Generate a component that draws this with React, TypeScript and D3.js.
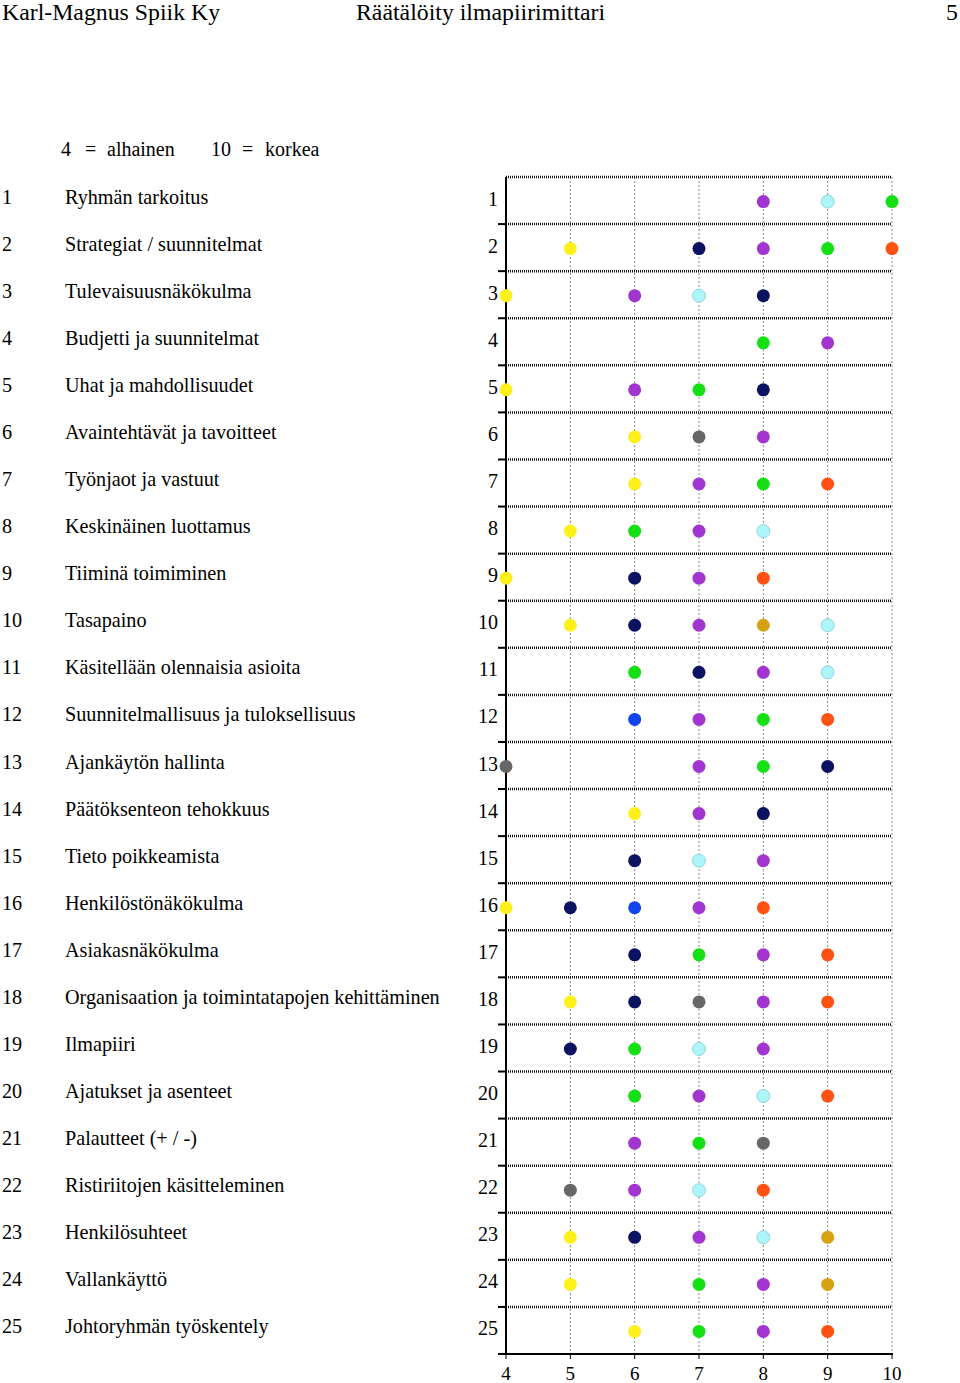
import React from "react";
import * as d3 from "d3";

const rowLabels = [
  "Ryhmän tarkoitus",
  "Strategiat / suunnitelmat",
  "Tulevaisuusnäkökulma",
  "Budjetti ja suunnitelmat",
  "Uhat ja mahdollisuudet",
  "Avaintehtävät ja tavoitteet",
  "Työnjaot ja vastuut",
  "Keskinäinen luottamus",
  "Tiiminä toimiminen",
  "Tasapaino",
  "Käsitellään olennaisia asioita",
  "Suunnitelmallisuus ja tuloksellisuus",
  "Ajankäytön hallinta",
  "Päätöksenteon tehokkuus",
  "Tieto poikkeamista",
  "Henkilöstönäkökulma",
  "Asiakasnäkökulma",
  "Organisaation ja toimintatapojen kehittäminen",
  "Ilmapiiri",
  "Ajatukset ja asenteet",
  "Palautteet (+ / -)",
  "Ristiriitojen käsitteleminen",
  "Henkilösuhteet",
  "Vallankäyttö",
  "Johtoryhmän työskentely",
];

const xTicks = [4, 5, 6, 7, 8, 9, 10];

type V = number | null;
const _ = null;
// one value per row (1..25), null = no mark
const purple: V[] = [8, 8, 6, 9, 6, 8, 7, 7, 7, 7, 8, 7, 7, 7, 8, 7, 8, 8, 8, 7, 6, 6, 7, 8, 8];
const cyan: V[] = [9, _, 7, _, _, _, _, 8, _, 9, 9, _, _, _, 7, _, _, _, 7, 8, _, 7, 8, _, _];
const green: V[] = [10, 9, _, 8, 7, _, 8, 6, _, _, 6, 8, 8, _, _, _, 7, _, 6, 6, 7, _, _, 7, 7];
const yellow: V[] = [_, 5, 4, _, 4, 6, 6, 5, 4, 5, _, _, _, 6, _, 4, _, 5, _, _, _, _, 5, 5, 6];
const navy: V[] = [_, 7, 8, _, 8, _, _, _, 6, 6, 7, _, 9, 8, 6, 5, 6, 6, 5, _, _, _, 6, _, _];
const orange: V[] = [_, 10, _, _, _, _, 9, _, 8, _, _, 9, _, _, _, 8, 9, 9, _, 9, _, 8, _, _, 9];
const gray: V[] = [_, _, _, _, _, 7, _, _, _, _, _, _, 4, _, _, _, _, 7, _, _, 8, 5, _, _, _];
const blue: V[] = [_, _, _, _, _, _, _, _, _, _, _, 6, _, _, _, 6, _, _, _, _, _, _, _, _, _];
const gold: V[] = [_, _, _, _, _, _, _, _, _, 8, _, _, _, _, _, _, _, _, _, _, _, _, 9, 9, _];

const series = [
  { values: yellow, fill: "#fff019", stroke: "none" },
  { values: navy, fill: "#0b1262", stroke: "none" },
  { values: blue, fill: "#1244ee", stroke: "none" },
  { values: gray, fill: "#676767", stroke: "none" },
  { values: purple, fill: "#a234d0", stroke: "none" },
  { values: cyan, fill: "#adf5f8", stroke: "#8fd8e0" },
  { values: green, fill: "#14e014", stroke: "none" },
  { values: orange, fill: "#ff5212", stroke: "none" },
  { values: gold, fill: "#d6a214", stroke: "none" },
];

const FONT = "'Liberation Serif', 'Times New Roman', serif";

export default function App() {
  const W = 960;
  const H = 1383;
  const x = d3.scaleLinear().domain([4, 10]).range([506, 892]);
  const y = d3.scaleLinear().domain([0, rowLabels.length]).range([177, 1354]);
  const rowMid = (i: number) => y(i + 0.5);

  const dots: { cx: number; cy: number; fill: string; stroke: string; key: string }[] = [];
  series.forEach((s, si) => {
    s.values.forEach((v, i) => {
      if (v != null) dots.push({ cx: x(v), cy: rowMid(i) + 1, fill: s.fill, stroke: s.stroke, key: `${si}-${i}` });
    });
  });

  return (
    <svg
      width={W}
      height={H}
      style={{ position: "absolute", left: 0, top: 0, display: "block", background: "#fff" }}
      fontFamily={FONT}
    >
      {/* header */}
      <text x={2} y={20} fontSize={23.8}>Karl-Magnus Spiik Ky</text>
      <text x={356} y={20} fontSize={23.8}>Räätälöity ilmapiirimittari</text>
      <text x={958} y={20} fontSize={23.8} textAnchor="end">5</text>

      {/* legend */}
      <g fontSize={20}>
        <text x={61} y={156}>4</text>
        <text x={85} y={156}>=</text>
        <text x={107} y={156}>alhainen</text>
        <text x={211} y={156}>10</text>
        <text x={242} y={156}>=</text>
        <text x={265} y={156}>korkea</text>
      </g>

      {/* left table */}
      <g fontSize={20.2}>
        {rowLabels.map((l, i) => (
          <g key={i}>
            <text x={2} y={rowMid(i) + 3}>{i + 1}</text>
            <text x={65} y={rowMid(i) + 3}>{l}</text>
          </g>
        ))}
      </g>

      {/* vertical grid */}
      {xTicks.slice(1).map((t) => (
        <line key={t} x1={x(t)} x2={x(t)} y1={y(0)} y2={y(rowLabels.length)} stroke="#8a8a8a" strokeWidth={1} strokeDasharray="2 2" />
      ))}

      {/* horizontal boundaries */}
      {d3.range(0, rowLabels.length).map((i) => (
        <g key={i}>
          <line x1={x(4)} x2={x(10)} y1={y(i)} y2={y(i)} stroke="#111" strokeWidth={2.5} strokeDasharray="1 1" />
          {i > 0 && <line x1={498} x2={x(4)} y1={y(i)} y2={y(i)} stroke="#000" strokeWidth={2} />}
        </g>
      ))}

      {/* y axis */}
      <line x1={x(4)} x2={x(4)} y1={y(0)} y2={y(rowLabels.length) + 1} stroke="#000" strokeWidth={2} />
      <g fontSize={20} textAnchor="end">
        {rowLabels.map((_l, i) => (
          <text key={i} x={498} y={rowMid(i) + 5}>{i + 1}</text>
        ))}
      </g>

      {/* x axis */}
      <line x1={498} x2={x(10) + 1} y1={y(rowLabels.length)} y2={y(rowLabels.length)} stroke="#000" strokeWidth={2} />
      {xTicks.map((t) => (
        <g key={t}>
          <line x1={x(t)} x2={x(t)} y1={y(rowLabels.length)} y2={y(rowLabels.length) + 5} stroke="#000" strokeWidth={1} />
          <text x={x(t)} y={1380} fontSize={19} textAnchor="middle">{t}</text>
        </g>
      ))}

      {/* dots */}
      {dots.map((d) => (
        <circle key={d.key} cx={d.cx} cy={d.cy} r={6.5} fill={d.fill} stroke={d.stroke} strokeWidth={d.stroke === "none" ? 0 : 1} />
      ))}
    </svg>
  );
}
